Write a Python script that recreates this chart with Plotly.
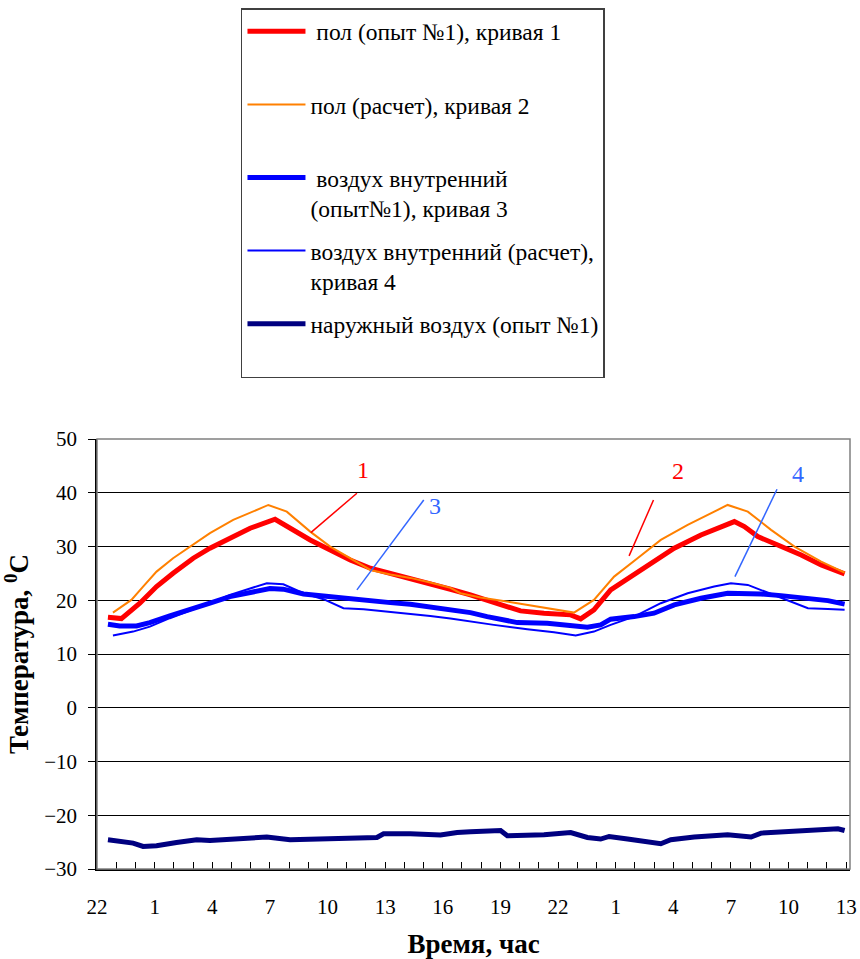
import plotly.graph_objects as go

# Time axis: hours elapsed since 22:00 of the first day
tick_hours = [0, 3, 6, 9, 12, 15, 18, 21, 24, 27, 30, 33, 36, 39]
tick_labels = ["22", "1", "4", "7", "10", "13", "16", "19", "22", "1", "4", "7", "10", "13"]

# Curve 1: floor temperature, experiment No.1
floor_exp_t = [0.57, 1.27, 2.23, 3.10, 3.96, 5.01, 5.88, 6.92, 7.97, 9.27, 10.05, 11.10, 12.14,
               13.18, 14.23, 15.27, 16.31, 17.35, 18.40, 19.44, 19.96, 21.00, 22.05, 23.27,
               24.66, 25.18, 25.87, 26.74, 27.96, 29.00, 30.05, 31.44, 32.66, 33.18, 33.70,
               34.40, 35.44, 36.66, 37.70, 38.92]
floor_exp = [16.85, 16.59, 19.45, 22.54, 25.03, 27.82, 29.68, 31.54, 33.40, 35.07, 33.40, 31.22,
             29.36, 27.50, 25.96, 25.03, 24.10, 23.17, 22.05, 20.99, 20.38, 19.13, 18.02, 17.59,
             17.28, 16.53, 18.21, 21.93, 24.71, 27.19, 29.68, 32.15, 34.01, 34.63, 33.70, 31.84,
             30.29, 28.43, 26.57, 24.90]

# Curve 2: floor temperature, calculation
floor_calc_t = [0.83, 1.79, 2.40, 3.10, 3.96, 4.84, 5.88, 7.09, 7.97, 8.92, 9.88, 11.10, 12.14,
                13.18, 14.23, 15.27, 16.31, 17.35, 18.40, 18.92, 19.96, 21.88, 23.27, 24.83,
                25.87, 26.92, 28.14, 29.35, 30.75, 32.13, 32.83, 33.88, 35.09, 36.31, 37.70, 38.92]
floor_calc = [17.70, 20.06, 22.54, 25.33, 27.82, 29.98, 32.47, 34.94, 36.30, 37.73, 36.49, 32.77,
              29.98, 27.82, 25.64, 24.81, 24.16, 23.32, 22.30, 21.31, 20.53, 19.45, 18.63, 17.70,
              20.06, 24.40, 27.82, 31.22, 34.01, 36.49, 37.73, 36.49, 33.10, 29.98, 27.19, 25.14]

# Curve 3: indoor air, experiment No.1
air_exp_t = [0.57, 1.18, 2.06, 2.75, 3.79, 4.84, 5.88, 6.92, 7.97, 9.00, 9.70, 10.75, 11.79,
             12.83, 13.88, 15.27, 16.31, 17.35, 18.40, 19.44, 20.31, 21.88, 23.44, 24.66, 25.53,
             26.22, 26.74, 27.96, 29.00, 30.05, 31.44, 32.83, 33.53, 34.57, 35.61, 36.83, 38.05,
             38.92]
air_exp = [15.55, 15.23, 15.23, 15.84, 17.09, 18.21, 19.45, 20.68, 21.42, 22.17, 22.06, 21.18,
           20.81, 20.38, 20.06, 19.56, 19.27, 18.82, 18.34, 17.70, 16.96, 15.84, 15.73, 15.42,
           14.99, 15.42, 16.48, 16.96, 17.59, 19.13, 20.38, 21.31, 21.31, 21.18, 20.86, 20.38,
           19.93, 19.27]

# Curve 4: indoor air, calculation
air_calc_t = [0.83, 1.88, 2.75, 3.79, 4.84, 5.88, 6.92, 7.97, 8.84, 9.70, 10.75, 11.79, 12.83,
              13.88, 15.27, 16.31, 17.35, 18.40, 19.44, 20.66, 22.40, 23.79, 24.92, 25.87, 26.74,
              27.96, 29.35, 30.75, 32.13, 33.00, 33.88, 35.09, 35.96, 37.01, 38.05, 38.92]
air_calc = [13.43, 14.17, 15.10, 16.66, 18.08, 19.45, 21.00, 22.24, 23.17, 22.98, 21.31, 20.20,
            18.52, 18.34, 17.89, 17.46, 17.09, 16.59, 16.03, 15.42, 14.62, 14.06, 13.43, 14.17,
            15.42, 16.96, 19.45, 21.31, 22.54, 23.17, 22.85, 21.18, 19.93, 18.52, 18.39, 18.21]

# Outdoor air, experiment No.1
outdoor_t = [0.57, 1.18, 1.88, 2.40, 3.10, 4.14, 5.19, 5.88, 6.92, 7.97, 8.84, 10.05, 11.44,
             12.83, 14.57, 14.92, 16.31, 17.88, 18.75, 19.44, 21.01, 21.36, 23.27, 24.66, 25.53,
             26.22, 26.66, 27.62, 29.35, 29.87, 31.09, 32.83, 34.05, 34.57, 36.31, 38.57, 38.92]
outdoor = [-24.56, -24.88, -25.18, -25.81, -25.68, -25.07, -24.56, -24.69, -24.43, -24.25, -24.06,
           -24.56, -24.43, -24.25, -24.14, -23.45, -23.45, -23.69, -23.21, -23.08, -22.84, -23.82,
           -23.64, -23.21, -24.14, -24.43, -23.95, -24.43, -25.31, -24.56, -24.06, -23.64, -24.06,
           -23.32, -22.89, -22.52, -22.84]

# Curve number callouts: label, label position, leader line ends, colour
callout_text = ["1", "3", "2", "4"]
callout_pos = [(13.84, 44.3), (17.62, 37.5), (30.26, 44.1), (36.48, 43.5)]
callout_lines = [((13.53, 39.91), (11.13, 32.58)),
                 ((17.01, 38.66), (13.53, 21.93)),
                 ((28.97, 38.66), (27.70, 28.25)),
                 ((35.40, 40.65), (33.21, 24.40))]
callout_color = ["#FF0000", "#3366FF", "#FF0000", "#3366FF"]

FONT = "Liberation Serif"
NB = "\u00a0"

series = [
    (floor_exp_t, floor_exp, NB + "пол (опыт №1), кривая 1<br>" + NB, "#FF0000", 5),
    (floor_calc_t, floor_calc, "пол (расчет), кривая 2<br>" + NB, "#FF8000", 2),
    (air_exp_t, air_exp, NB + "воздух внутренний<br>(опыт№1), кривая 3", "#0000FF", 5),
    (air_calc_t, air_calc, "воздух внутренний (расчет),<br>кривая 4", "#0000FF", 2),
    (outdoor_t, outdoor, "наружный воздух (опыт №1)<br>" + NB, "#000080", 5),
]

fig = go.Figure()
for i, (xs, ys, name, color, w) in enumerate(series):
    fig.add_trace(go.Scatter(x=xs, y=ys, mode="lines", name=name, legendgroup=f"g{i}",
                             line=dict(color=color, width=w, shape="linear")))

for txt, (tx, ty), ((x0, y0), (x1, y1)), col in zip(callout_text, callout_pos, callout_lines, callout_color):
    fig.add_shape(type="line", xref="x", yref="y", x0=x0, y0=y0, x1=x1, y1=y1,
                  line=dict(color=col, width=1.5))
    fig.add_annotation(x=tx, y=ty, xref="x", yref="y", text=txt, showarrow=False,
                       font=dict(family=FONT, size=24, color=col))

# plot-area frame
fig.add_shape(type="rect", xref="x domain", yref="y domain", x0=0, y0=0, x1=1, y1=1,
              line=dict(color="#808080", width=1.5), layer="above")

# The paper spans the whole page above the x axis; the plot itself sits in the
# lower part and the legend box lives above it.
PAPER_H = 959 - 90
PLOT_H = 430

fig.update_layout(
    width=860, height=959,
    margin=dict(l=97, r=10, t=0, b=90, autoexpand=False),
    paper_bgcolor="white", plot_bgcolor="white",
    font=dict(family=FONT, size=21, color="black"),
    showlegend=True,
    legend=dict(x=0.1912, y=(PAPER_H - 8) / PAPER_H, xanchor="left", yanchor="top",
                bgcolor="white", bordercolor="#404040", borderwidth=1.5,
                font=dict(family=FONT, size=23.5, color="black"),
                valign="top", tracegroupgap=9, itemwidth=58, traceorder="grouped"),
    xaxis=dict(range=[0, 39.2], tickmode="array", tickvals=tick_hours, ticktext=tick_labels,
               ticks="inside", ticklen=7, tickcolor="black", tickwidth=1,
               minor=dict(tickmode="linear", tick0=0, dtick=1, ticks="inside", ticklen=7,
                          tickcolor="black", tickwidth=1, showgrid=False),
               showline=True, linecolor="black", linewidth=1.5, showgrid=False, zeroline=False,
               ticklabelstandoff=18,
               title=dict(text="Время, час", font=dict(family=FONT, size=27, weight="bold"),
                          standoff=17)),
    yaxis=dict(domain=[0, PLOT_H / PAPER_H], range=[-30, 50], dtick=10,
               ticks="outside", ticklen=7, tickcolor="black",
               showline=True, linecolor="black", linewidth=1.5,
               showgrid=True, gridcolor="black", gridwidth=1, zeroline=False,
               ticklabelstandoff=7,
               title=dict(text="Температура, <sup>0</sup>С",
                          font=dict(family=FONT, size=27, weight="bold"), standoff=10)),
)

fig.write_html("out.html")
